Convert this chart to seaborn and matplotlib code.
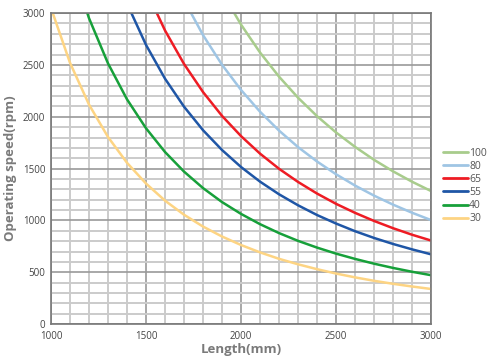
import pandas as pd
import numpy as np
import matplotlib.pyplot as plt
import seaborn as sns
from matplotlib.ticker import MultipleLocator

# Values (rpm at each length, mm)
len_30 = list(range(1000, 3001, 100))
rpm_30 = [3050, 2521, 2118, 1805, 1556, 1356, 1191, 1055, 941, 845, 763,
          692, 630, 577, 530, 488, 451, 418, 389, 363, 339]
len_40 = list(range(1100, 3001, 100))
rpm_40 = [3512, 2951, 2515, 2168, 1889, 1660, 1471, 1312, 1177, 1063, 964,
          878, 803, 738, 680, 629, 583, 542, 505, 472]
len_55 = list(range(1400, 3001, 100))
rpm_55 = [3092, 2693, 2367, 2097, 1870, 1679, 1515, 1374, 1252, 1146, 1052,
          970, 896, 831, 773, 721, 673]
len_65 = list(range(1500, 3001, 100))
rpm_65 = [3222, 2832, 2509, 2238, 2008, 1813, 1644, 1498, 1371, 1259, 1160,
          1073, 995, 925, 862, 806]
len_80 = list(range(1700, 3001, 100))
rpm_80 = [3125, 2787, 2501, 2258, 2048, 1866, 1707, 1568, 1445, 1336, 1239,
          1152, 1074, 1003]
len_100 = list(range(1900, 3001, 100))
rpm_100 = [3199, 2888, 2619, 2386, 2183, 2005, 1848, 1709, 1584, 1473, 1373, 1283]

series = ['100', '80', '65', '55', '40', '30']
colors = ['#a8cc8c', '#9fc5e4', '#ee1c24', '#1f56a6', '#17a03a', '#fdd483']

lengths = {'30': len_30, '40': len_40, '55': len_55, '65': len_65, '80': len_80, '100': len_100}
speeds = {'30': rpm_30, '40': rpm_40, '55': rpm_55, '65': rpm_65, '80': rpm_80, '100': rpm_100}

frames = []
for s in series:
    frames.append(pd.DataFrame({'Length': lengths[s], 'Speed': speeds[s], 'Size': s}))
df = pd.concat(frames, ignore_index=True)

sns.set_theme(style="white")
plt.rcParams['font.family'] = ['Open Sans', 'DejaVu Sans']

fig = plt.figure(figsize=(4.9, 3.63), dpi=100)
ax = fig.add_axes([0.104, 0.107, 0.776, 0.857])

# grid: light every 100, darker every 500
ax.xaxis.set_major_locator(MultipleLocator(500))
ax.xaxis.set_minor_locator(MultipleLocator(100))
ax.yaxis.set_major_locator(MultipleLocator(500))
ax.yaxis.set_minor_locator(MultipleLocator(100))
ax.grid(which='minor', color='#cbcbcb', linewidth=1.4, zorder=0)
ax.grid(which='major', color='#9a9a9a', linewidth=1.2, zorder=0)
ax.set_axisbelow(True)

sns.lineplot(data=df, x='Length', y='Speed', hue='Size', hue_order=series,
             palette=dict(zip(series, colors)), linewidth=1.8, ax=ax,
             estimator=None, sort=False, legend=False)

ax.set_xlim(1000, 3000)
ax.set_ylim(0, 3000)
for sp in ax.spines.values():
    sp.set_color('#777777')
    sp.set_linewidth(1.2)

ax.tick_params(which='both', length=0, labelsize=7, colors='#444444')
ax.tick_params(axis='x', pad=5)
ax.tick_params(axis='y', pad=4)
ax.set_xlabel('Length(mm)', fontsize=9.5, fontweight='bold', color='#7a7a7a', labelpad=1)
ax.set_ylabel('Operating speed(rpm)', fontsize=9.5, fontweight='bold', color='#7a7a7a', labelpad=4)

handles = [plt.Line2D([], [], color=c, linewidth=2) for c in colors]
leg = ax.legend(handles, series, loc='upper left', bbox_to_anchor=(1.02, 0.58),
                frameon=False, fontsize=7.5, handlelength=2.4, handletextpad=0.1,
                labelspacing=0.2, borderaxespad=0)
for t in leg.get_texts():
    t.set_color('#555555')

fig.savefig('out.png', dpi=100)
